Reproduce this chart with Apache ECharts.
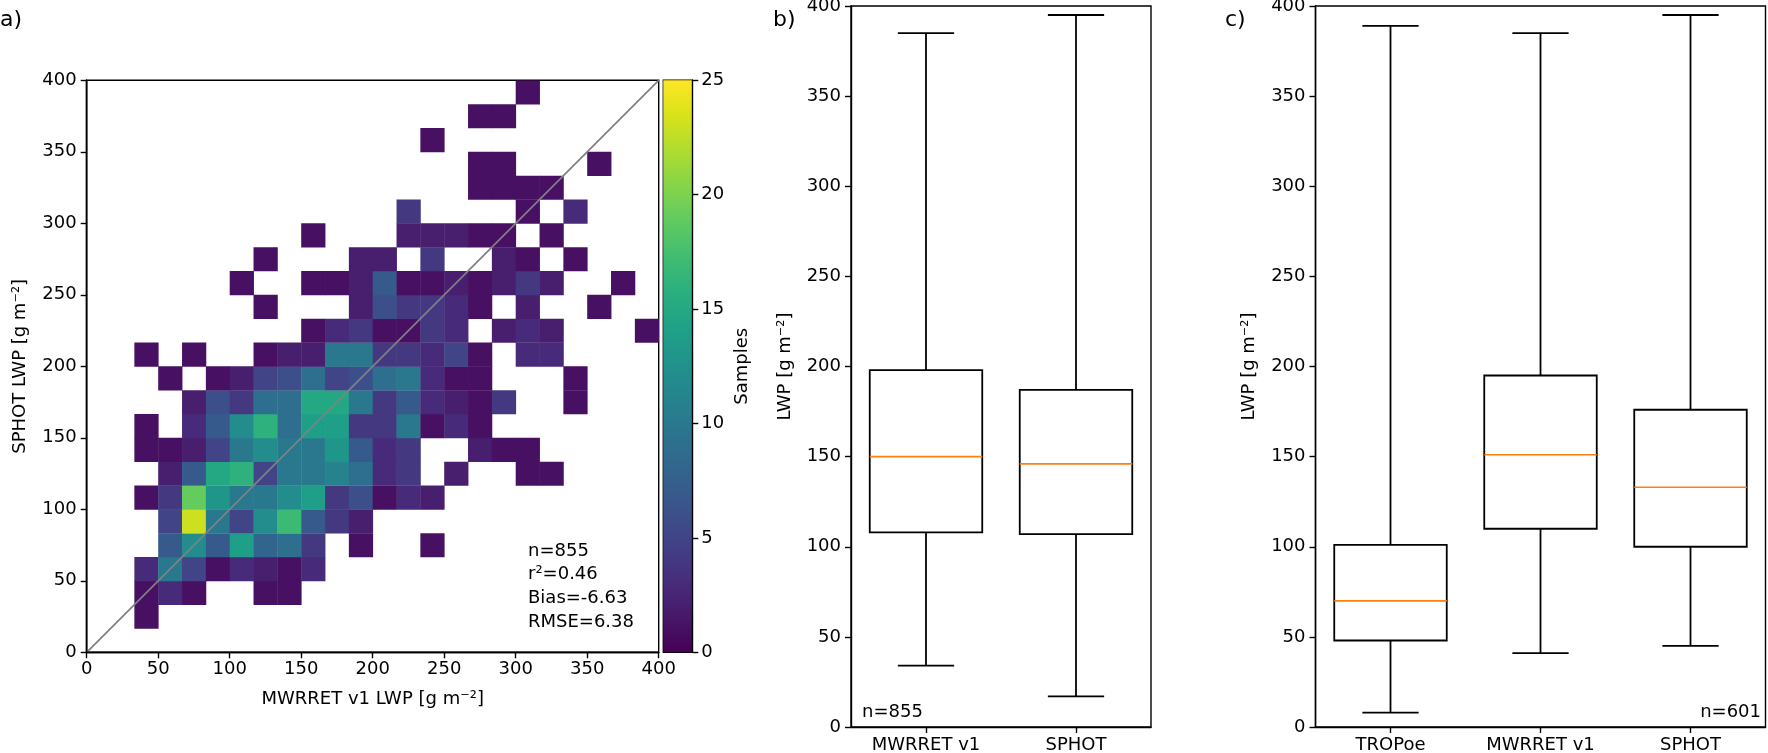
<!DOCTYPE html>
<html>
<head>
<meta charset="utf-8">
<script src="https://cdn.jsdelivr.net/npm/echarts@6/dist/echarts.min.js"></script>
<style>
html, body { margin: 0; padding: 0; background: #fff; }
#chart { width: 1768px; height: 753px; }
</style>
</head>
<body>
<div id="chart"></div>
<script>
// ---- data ----
const lwpRange = [0, 400];
const binCount = 24;
// counts[j][i]: j = SPHOT bin (bottom -> top), i = MWRRET v1 bin (left -> right)
const counts = [
  [0,0,0,0,0,0,0,0,0,0,0,0,0,0,0,0,0,0,0,0,0,0,0,0],
  [0,0,1,0,0,0,0,0,0,0,0,0,0,0,0,0,0,0,0,0,0,0,0,0],
  [0,0,1,3,1,0,0,1,1,0,0,0,0,0,0,0,0,0,0,0,0,0,0,0],
  [0,0,3,10,5,1,3,2,1,3,0,0,0,0,0,0,0,0,0,0,0,0,0,0],
  [0,0,0,7,12,7,14,8,9,4,0,1,0,0,1,0,0,0,0,0,0,0,0,0],
  [0,0,0,5,23,10,5,12,17,7,4,2,0,0,0,0,0,0,0,0,0,0,0,0],
  [0,0,1,4,19,13,10,10,12,14,4,6,1,3,2,0,0,0,0,0,0,0,0,0],
  [0,0,0,2,7,15,16,5,10,10,11,9,3,4,0,2,0,0,1,1,0,0,0,0],
  [0,0,1,1,2,5,10,12,10,10,13,7,3,4,0,0,2,1,1,0,0,0,0,0],
  [0,0,1,0,3,7,12,16,9,14,14,4,4,10,1,3,1,0,0,0,0,0,0,0],
  [0,0,0,0,2,6,4,9,9,15,15,10,4,7,3,2,1,4,0,0,1,0,0,0],
  [0,0,0,1,0,1,2,5,6,9,5,6,9,10,3,1,1,0,0,0,1,0,0,0],
  [0,0,1,0,1,0,0,1,2,2,10,10,4,4,3,5,1,0,3,3,0,0,0,0],
  [0,0,0,0,0,0,0,0,0,1,3,4,1,1,4,3,0,2,3,2,0,0,0,1],
  [0,0,0,0,0,0,0,1,0,0,0,2,6,4,4,3,1,0,2,0,0,1,0,0],
  [0,0,0,0,0,0,1,0,0,1,1,2,7,1,1,2,1,2,4,2,0,0,1,0],
  [0,0,0,0,0,0,0,1,0,0,0,2,2,0,4,0,0,2,1,0,1,0,0,0],
  [0,0,0,0,0,0,0,0,0,1,0,0,0,2,2,2,1,1,0,1,0,0,0,0],
  [0,0,0,0,0,0,0,0,0,0,0,0,0,4,0,0,0,0,1,0,3,0,0,0],
  [0,0,0,0,0,0,0,0,0,0,0,0,0,0,0,0,1,1,1,1,0,0,0,0],
  [0,0,0,0,0,0,0,0,0,0,0,0,0,0,0,0,1,1,0,0,0,1,0,0],
  [0,0,0,0,0,0,0,0,0,0,0,0,0,0,1,0,0,0,0,0,0,0,0,0],
  [0,0,0,0,0,0,0,0,0,0,0,0,0,0,0,0,1,1,0,0,0,0,0,0],
  [0,0,0,0,0,0,0,0,0,0,0,0,0,0,0,0,0,0,1,0,0,0,0,0]
];
const oneToOne = [[0, 0], [400, 400]];
const samplesMax = 25;
const statsLines = ['n=855', 'r²=0.46', 'Bias=-6.63', 'RMSE=6.38'];

// box stats: [lower whisker, Q1, median, Q3, upper whisker]
const catsB = ['MWRRET v1', 'SPHOT'];
const boxB = [
  [34, 108, 150, 198, 385],
  [17, 107, 146, 187, 395]
];
const nB = 'n=855';

const catsC = ['TROPoe', 'MWRRET v1', 'SPHOT'];
const boxC = [
  [8, 48, 70, 101, 389],
  [41, 110, 151, 195, 385],
  [45, 100, 133, 176, 395]
];
const nC = 'n=601';

const viridis = ['#440154','#48186a','#472d7b','#424086','#3b528b','#33638d','#2c728e','#26828e',
  '#21918c','#1fa088','#28ae80','#3fbc73','#5ec962','#84d44b','#addc30','#d8e219','#fde725'];

// ---- build ----
const FONT = 'DejaVu Sans';
const binW = (lwpRange[1] - lwpRange[0]) / binCount;
const heatData = [];
counts.forEach((row, j) => row.forEach((v, i) => {
  if (v > 0) heatData.push([lwpRange[0] + i * binW, lwpRange[0] + j * binW, v]);
}));

function axisBase(extra) {
  return Object.assign({
    axisLine: { show: true, lineStyle: { color: '#000', width: 1.4 } },
    axisTick: { show: true, inside: false, length: 6, lineStyle: { color: '#000', width: 1.4 } },
    axisLabel: { color: '#000', fontFamily: FONT, fontSize: 18, margin: 10 },
    splitLine: { show: false },
    nameTextStyle: { color: '#000', fontFamily: FONT, fontSize: 18 },
    z: 5
  }, extra);
}

function lwpAxis(gridIndex, name, gap) {
  return axisBase({
    gridIndex, type: 'value', min: 0, max: 400, interval: 50,
    name, nameLocation: 'middle', nameRotate: 90, nameGap: gap
  });
}

function catAxis(gridIndex, data) {
  const ax = axisBase({ gridIndex, type: 'category', data });
  ax.axisTick.alignWithLabel = true;
  ax.axisLabel.margin = 9;
  return ax;
}

function renderHeat(params, api) {
  const x0 = api.value(0), y0 = api.value(1);
  const p0 = api.coord([x0, y0]);
  const p1 = api.coord([x0 + binW, y0 + binW]);
  return {
    type: 'rect',
    shape: { x: p0[0], y: p1[1], width: p1[0] - p0[0] + 0.4, height: p0[1] - p1[1] + 0.4 },
    style: { fill: api.visual('color') }
  };
}

function renderBox(params, api) {
  const i = api.value(0);
  const lo = api.value(1), q1 = api.value(2), med = api.value(3), q3 = api.value(4), hi = api.value(5);
  const band = api.size([1, 0])[0];
  const half = band * 0.75 / 2, cap = band * 0.375 / 2;
  const cx = api.coord([i, med])[0];
  const y = v => api.coord([i, v])[1];
  const seg = (x1, y1, x2, y2, color, w) => ({
    type: 'line', shape: { x1, y1, x2, y2 }, style: { stroke: color, lineWidth: w }
  });
  return {
    type: 'group',
    children: [
      seg(cx, y(q3), cx, y(hi), '#000', 1.8),
      seg(cx, y(lo), cx, y(q1), '#000', 1.8),
      seg(cx - cap, y(hi), cx + cap, y(hi), '#000', 1.8),
      seg(cx - cap, y(lo), cx + cap, y(lo), '#000', 1.8),
      { type: 'rect', shape: { x: cx - half, y: y(q3), width: 2 * half, height: y(q1) - y(q3) },
        style: { fill: 'none', stroke: '#000', lineWidth: 1.8 } },
      seg(cx - half, y(med), cx + half, y(med), '#ff7f0e', 1.6)
    ]
  };
}

const gridBase = { show: true, borderColor: '#000', borderWidth: 1.4, backgroundColor: 'transparent', containLabel: false, outerBoundsMode: 'none' };

const cbStops = viridis.map((c, k) => ({ offset: k / (viridis.length - 1), color: c }));

const chart = echarts.init(document.getElementById('chart'), null, { renderer: 'canvas' });
chart.setOption({
  backgroundColor: '#fff',
  animation: false,
  grid: [
    Object.assign({ left: 86.7, top: 80.3, width: 572, height: 572 }, gridBase),
    Object.assign({ left: 663.3, top: 80.3, width: 29, height: 572 }, gridBase),
    Object.assign({ left: 851, top: 6, width: 300, height: 721 }, gridBase),
    Object.assign({ left: 1315.5, top: 6, width: 450, height: 721 }, gridBase)
  ],
  xAxis: [
    axisBase({
      gridIndex: 0, type: 'value', min: 0, max: 400, interval: 50,
      name: 'MWRRET v1 LWP [g m⁻²]', nameLocation: 'middle', nameGap: 38,
      axisLabel: { color: '#000', fontFamily: FONT, fontSize: 18, margin: 8 }
    }),
    { gridIndex: 1, type: 'category', data: ['cb'], show: false },
    catAxis(2, catsB),
    catAxis(3, catsC),
    axisBase({ gridIndex: 0, type: 'value', position: 'top', min: 0, max: 400,
      axisTick: { show: false }, axisLabel: { show: false } })
  ],
  yAxis: [
    lwpAxis(0, 'SPHOT LWP [g m⁻²]', 57),
    axisBase({
      gridIndex: 1, type: 'value', min: 0, max: samplesMax, interval: 5, position: 'right',
      name: 'Samples', nameLocation: 'middle', nameRotate: 90, nameGap: 41,
      axisLabel: { color: '#000', fontFamily: FONT, fontSize: 18, margin: 9 }
    }),
    lwpAxis(2, 'LWP [g m⁻²]', 57),
    lwpAxis(3, 'LWP [g m⁻²]', 57),
    axisBase({ gridIndex: 0, type: 'value', position: 'right', min: 0, max: 400,
      axisTick: { show: false }, axisLabel: { show: false } })
  ],
  visualMap: {
    type: 'continuous', show: false, seriesIndex: 0, dimension: 2,
    min: 0, max: samplesMax, inRange: { color: viridis }
  },
  series: [
    { type: 'custom', name: 'counts', xAxisIndex: 0, yAxisIndex: 0, data: heatData,
      renderItem: renderHeat, clip: true, silent: true, z: 2 },
    { type: 'line', xAxisIndex: 0, yAxisIndex: 0, data: oneToOne, symbol: 'none',
      lineStyle: { color: '#808080', width: 1.8 }, silent: true, z: 3 },
    { type: 'bar', xAxisIndex: 1, yAxisIndex: 1, data: [samplesMax], barWidth: '100%',
      itemStyle: { color: new echarts.graphic.LinearGradient(0, 1, 0, 0, cbStops) }, silent: true },
    { type: 'custom', xAxisIndex: 2, yAxisIndex: 2, data: boxB.map((s, i) => [i].concat(s)),
      renderItem: renderBox, silent: true, encode: { x: 0, y: [1, 2, 3, 4, 5] } },
    { type: 'custom', xAxisIndex: 3, yAxisIndex: 3, data: boxC.map((s, i) => [i].concat(s)),
      renderItem: renderBox, silent: true, encode: { x: 0, y: [1, 2, 3, 4, 5] } }
  ],
  graphic: [
    { type: 'text', style: { text: 'a)', x: 0, y: 20, font: '22px "DejaVu Sans"', fill: '#000', verticalAlign: 'middle' } },
    { type: 'text', style: { text: 'b)', x: 773, y: 20, font: '22px "DejaVu Sans"', fill: '#000', verticalAlign: 'middle' } },
    { type: 'text', style: { text: 'c)', x: 1225, y: 20, font: '22px "DejaVu Sans"', fill: '#000', verticalAlign: 'middle' } },
    { type: 'text', style: { text: statsLines.join('\n'), x: 528, y: 539, font: '18px "DejaVu Sans"',
      lineHeight: 23.8, fill: '#000', verticalAlign: 'top' } },
    { type: 'text', style: { text: nB, x: 862, y: 712, font: '18px "DejaVu Sans"', fill: '#000', verticalAlign: 'middle' } },
    { type: 'text', style: { text: nC, x: 1761, y: 712, font: '18px "DejaVu Sans"', fill: '#000', align: 'right', verticalAlign: 'middle' } }
  ]
});
</script>
</body>
</html>
